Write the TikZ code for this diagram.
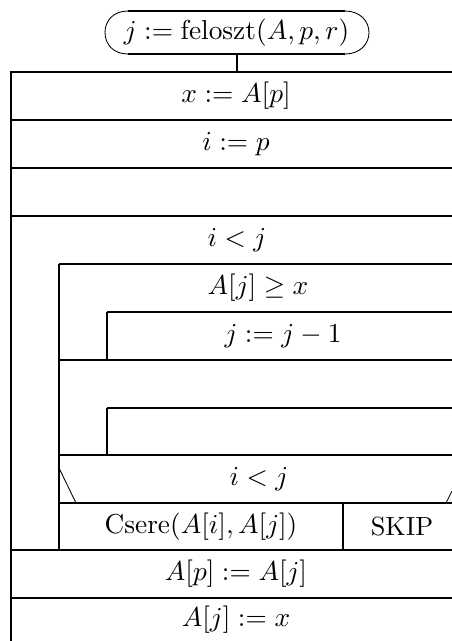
\documentclass[tikz,border=0pt]{standalone}
\usepackage{amssymb}
\begin{document}
\begin{tikzpicture}[x=0.4pt,y=-0.4pt,
  rule/.style={line width=0.65pt},
  heavy/.style={line width=0.85pt},
  thin/.style={line width=0.35pt},
  lbl/.style={inner sep=0pt, font=\fontsize{10.5}{12.6}\selectfont}]
\useasboundingbox (0,0) rectangle (452,641);

% procedure head
\node[lbl] (head) at (236.5,32.5) {$j := \mathrm{feloszt}(A,p,r)$};
\draw[heavy] (128,11) -- (345,11) (128,54) -- (345,54);
\draw[thin] (128,11) .. controls (113,11) and (105,21) .. (105,32.5)
                     .. controls (105,44) and (113,54) .. (128,54);
\draw[thin] (345,11) .. controls (360,11) and (369,21) .. (369,32.5)
                     .. controls (369,44) and (360,54) .. (345,54);
\coordinate (headfoot) at (237,54);
\coordinate (bodytop) at (237,72);
\draw[rule] (headfoot) -- (bodytop);

% outer frame and rows
\draw[rule] (452,72) -- (11,72) -- (11,641);
\draw[rule] (11,120) -- (452,120);
\draw[rule] (11,168) -- (452,168);
\draw[rule] (11,216) -- (452,216);
\draw[rule] (59,264) -- (452,264);
\draw[rule] (59,264) -- (59,550);
% inner loop 1
\draw[rule] (107,312) -- (452,312);
\draw[rule] (107,312) -- (107,360);
\draw[rule] (59,360) -- (452,360);
% inner loop 2
\draw[rule] (107,408) -- (452,408);
\draw[rule] (107,408) -- (107,455);
\draw[rule] (59,455) -- (452,455);
% branch
\draw[thin] (59,468) -- (76,503);
\draw[thin] (446,503) -- (452,491);
\draw[rule] (59,503) -- (452,503);
\draw[rule] (343,503) -- (343,550);
\draw[heavy] (11,550) -- (452,550);
\draw[rule] (11,598) -- (452,598);

% texts
\node[lbl] (s1) at (236,96) {$x := A[p]$};
\node[lbl] (s2) at (236,144) {$i := p$};
\node[lbl] (w1) at (237,240) {$i < j$};
\node[lbl] (w2) at (258,288) {$A[j] \geq x$};
\node[lbl] (s3) at (283,336) {$j := j - 1$};
\node[lbl] (c1) at (259,479) {$i < j$};
\node[lbl] (s4) at (201,527) {$\mathrm{Csere}(A[i],A[j])$};
\node[lbl] (s5) at (402,527) {SKIP};
\node[lbl] (s6) at (236,574) {$A[p] := A[j]$};
\node[lbl] (s7) at (236,620) {$A[j] := x$};
\end{tikzpicture}
\end{document}
